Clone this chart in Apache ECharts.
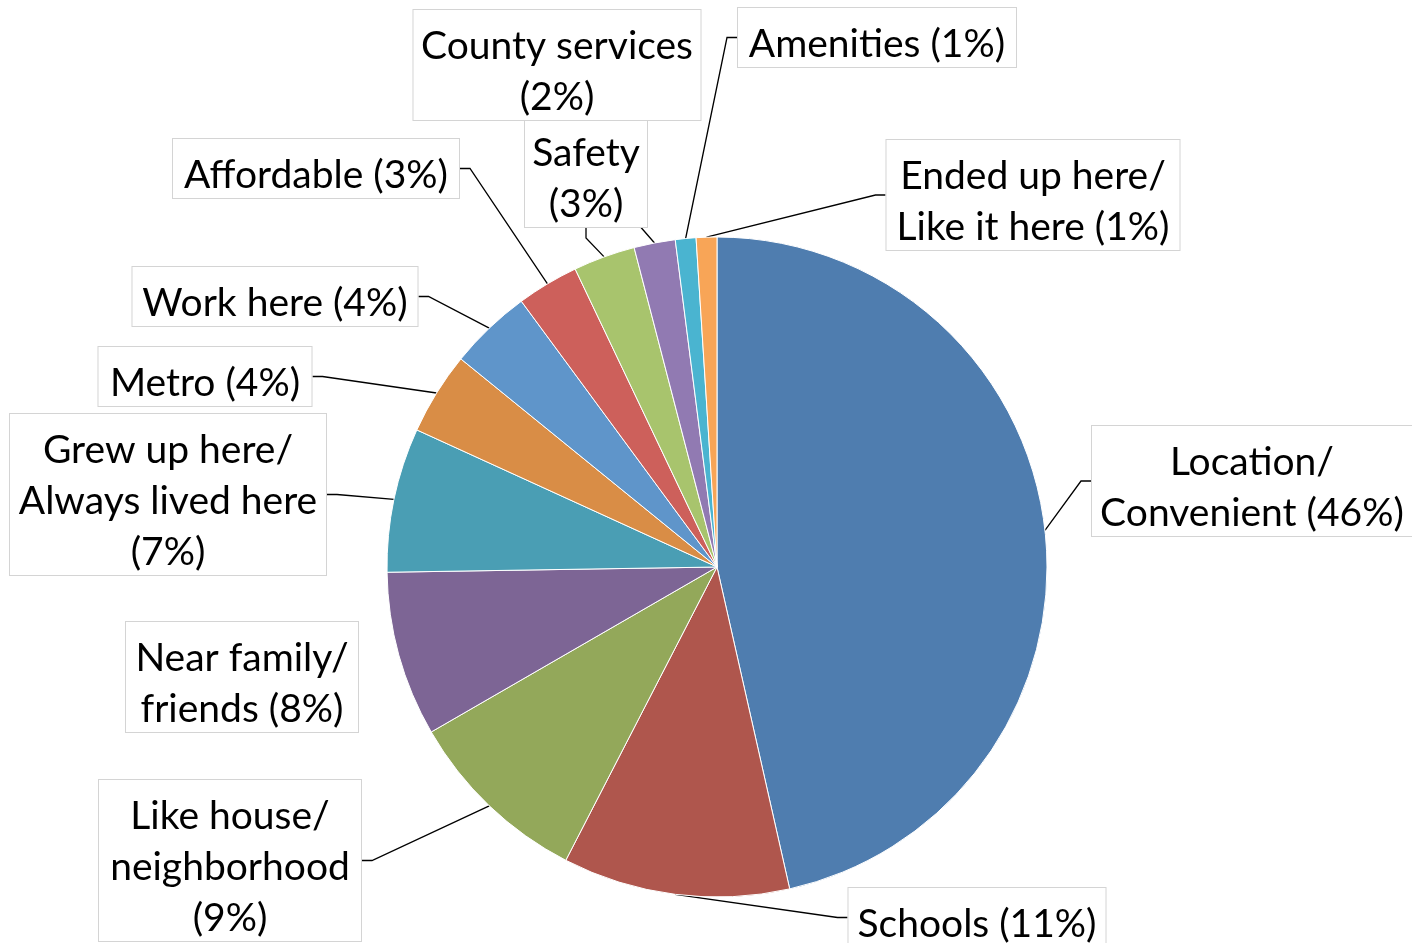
<!DOCTYPE html>
<html>
<head>
<meta charset="utf-8">
<script src="https://cdn.jsdelivr.net/npm/echarts@6/dist/echarts.min.js"></script>
<style>
html, body { margin: 0; padding: 0; background: #fff; }
#pie { width: 1412px; height: 943px; }
</style>
</head>
<body>
<div id="pie"></div>
<script>
var categories = ['Location/\nConvenient', 'Schools', 'Like house/\nneighborhood', 'Near family/\nfriends',
	'Grew up here/\nAlways lived here', 'Metro', 'Work here', 'Affordable', 'Safety', 'County services',
	'Amenities', 'Ended up here/\nLike it here'];
var values = [46, 11, 9, 8, 7, 4, 4, 3, 3, 2, 1, 1];
// separator between name and percentage in each label
var pctSep = [' ', ' ', '\n', ' ', '\n', ' ', ' ', ' ', '\n', '\n', ' ', ' '];

var colors = ['#4f7daf', '#af564d', '#93a85a', '#7d6595', '#4a9eb4', '#d98d46',
	'#5f95ca', '#cd605b', '#a8c46d', '#917ab2', '#4ab4d0', '#f8a557'];

// label boxes: centre x, top y, width (layout only)
var labelPos = [[1252, 426], [977, 888], [230, 780], [242, 622], [168, 414], [205, 347],
	[275, 267], [316, 139], [586, 117], [557, 10], [877, 8], [1033, 140]];
var labelWidth = [320, 257, 262, 232, 316, 213, 285, 286, 122, 287, 278, 293];
// the near family label sits close to its slice, no leader line there
var showLine = [true, true, true, false, true, true, true, true, true, true, true, true];

var LINE_H = 51;

function labelText(i) {
	return categories[i] + pctSep[i] + '(' + values[i] + '%)';
}

var pie = echarts.init(document.getElementById('pie'));

var data = [];
for (var i = 0; i < values.length; i++) {
	var nLines = labelText(i).split('\n').length;
	data.push({
		name: categories[i],
		value: values[i],
		label: { width: labelWidth[i], height: nLines * LINE_H - 3 },
		labelLine: { show: showLine[i] }
	});
}

var option = {
	animation: false,
	color: colors,
	series: [{
		type: 'pie',
		center: [717, 567],
		radius: 330,
		startAngle: 90,
		clockwise: true,
		avoidLabelOverlap: false,
		itemStyle: {
			borderColor: '#fff',
			borderWidth: 1
		},
		label: {
			show: true,
			position: 'outside',
			formatter: function (p) {
				return labelText(p.dataIndex);
			},
			fontFamily: 'Lato',
			fontSize: 39,
			lineHeight: LINE_H,
			color: '#000',
			align: 'center',
			backgroundColor: '#fff',
			borderColor: '#d4d4d4',
			borderWidth: 1,
			padding: [11, 0, 0, 0]
		},
		labelLine: {
			show: true,
			length: 10,
			length2: 10,
			lineStyle: {
				color: '#000',
				width: 1.3
			}
		},
		labelLayout: function (params) {
			var p = labelPos[params.dataIndex];
			return {
				x: p[0],
				y: p[1],
				align: 'center',
				verticalAlign: 'top'
			};
		},
		emphasis: { disabled: true },
		data: data
	}]
};

pie.setOption(option);
</script>
</body>
</html>
